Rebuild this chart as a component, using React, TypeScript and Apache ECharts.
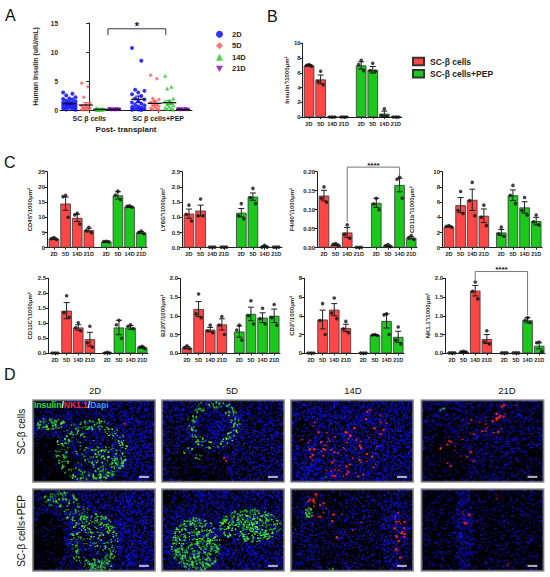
import React, { useEffect, useRef } from "react";
import * as echarts from "echarts";

const FONT = "'Liberation Sans', Arial, Helvetica, sans-serif";
const RED = "#FF4747";
const GREEN = "#1BC81B";
const INK = "#1e1e1e";

// ---------------- Panel A data ----------------
const aGroupLabels = ["SC β cells", "SC β cells+PEP"];
const aDayNames = ["2D", "5D", "14D", "21D"];
const aSc2D = [3.0, 2.8, 2.5, 2.2, 2.0, 1.9, 1.8, 1.6, 1.5, 1.4, 1.3, 1.2, 1.1, 1.0, 0.9, 0.8, 0.7, 0.6, 0.5, 0.4, 0.3, 0.2, 0.1, 0.05];
const aSc5D = [4.6, 4.0, 2.2, 1.2, 0.9, 0.7, 0.5, 0.4, 0.3, 0.2, 0.1, 0.05, 0.0];
const aSc14D = [0.35, 0.25, 0.2, 0.15, 0.1, 0.05, 0.05, 0.0];
const aSc21D = [0.15, 0.12, 0.1, 0.1, 0.08, 0.08, 0.05, 0.05, 0.03, 0.02];
const aPep2D = [10.7, 8.5, 3.5, 3.3, 3.0, 2.7, 2.4, 2.0, 1.8, 1.5, 1.3, 1.1, 0.9, 0.8, 0.6, 0.5, 0.4, 0.3, 0.2, 0.1, 0.05, 0.0];
const aPep5D = [6.0, 5.4, 2.0, 1.8, 1.6, 1.3, 1.0, 0.8, 0.6, 0.5, 0.3, 0.2, 0.1, 0.0];
const aPep14D = [5.9, 4.0, 3.7, 2.0, 1.7, 1.5, 1.2, 1.0, 0.8, 0.6, 0.4, 0.3, 0.2, 0.1];
const aPep21D = [0.15, 0.12, 0.1, 0.1, 0.08, 0.06, 0.05, 0.03];
const aScMean = [1.1, 0.86, 0.12, 0.08];
const aScSem = [0.17, 0.4, 0.03, 0.01];
const aPepMean = [1.85, 1.15, 1.26, 0.08];
const aPepSem = [0.55, 0.35, 0.35, 0.01];
const aTicks = [0, 5, 10, 15];

// ---------------- Panel B data ----------------
const dayLabels = ["2D", "5D", "14D", "21D"];
const legendNames = ["SC-β cells", "SC-β cells+PEP"];
const bRedMean = [7.0, 5.1, 0.02, 0.02];
const bRedSem = [0.1, 0.6, 0, 0];
const bRedDots = [[7.1, 7.0, 6.9], [6.2, 4.8, 4.4], [0, 0, 0], [0, 0, 0]];
const bGreenMean = [7.0, 6.4, 0.45, 0.02];
const bGreenSem = [0.5, 0.45, 0.35, 0];
const bGreenDots = [[7.7, 7.1, 6.3], [7.3, 6.3, 6.2], [1.1, 0.2, 0.1], [0, 0, 0]];

// ---------------- Panel C data ----------------
const cd45RedMean = [3.0, 14.5, 9.8, 5.8];
const cd45RedSem = [0.2, 2.2, 1.2, 0.6];
const cd45RedDots = [[3.3, 3.0, 2.7], [17.2, 16.8, 10.0], [11.3, 10.8, 7.8], [6.7, 5.6, 4.9]];
const cd45GreenMean = [2.0, 17.2, 13.5, 5.0];
const cd45GreenSem = [0.1, 1.2, 0.2, 0.3];
const cd45GreenDots = [[2.1, 2.0, 1.9], [18.6, 17.3, 15.8], [13.8, 13.6, 13.3], [5.5, 5.0, 4.6]];

const ly6gRedMean = [1.12, 1.22, 0.02, 0.02];
const ly6gRedSem = [0.15, 0.18, 0, 0];
const ly6gRedDots = [[1.4, 1.1, 0.88], [1.6, 1.05, 1.05], [0.02, 0.02, 0.02], [0.02, 0.02, 0.02]];
const ly6gGreenMean = [1.15, 1.68, 0.04, 0.02];
const ly6gGreenSem = [0.14, 0.12, 0.02, 0];
const ly6gGreenDots = [[1.45, 1.05, 0.95], [1.95, 1.65, 1.45], [0.08, 0.02, 0.02], [0.02, 0.02, 0.02]];

const f480RedMean = [0.137, 0.008, 0.04, 0.001];
const f480RedSem = [0.014, 0.002, 0.013, 0];
const f480RedDots = [[0.16, 0.13, 0.12], [0.011, 0.009, 0.006], [0.06, 0.035, 0.025], [0.001, 0.001, 0.001]];
const f480GreenMean = [0.118, 0.005, 0.165, 0.026];
const f480GreenSem = [0.012, 0.002, 0.018, 0.003];
const f480GreenDots = [[0.13, 0.115, 0.1], [0.008, 0.005, 0.003], [0.185, 0.18, 0.13], [0.032, 0.026, 0.022]];

const cd11bRedMean = [2.8, 5.6, 6.3, 4.2];
const cd11bRedSem = [0.05, 1.0, 1.4, 0.9];
const cd11bRedDots = [[2.9, 2.8, 2.7], [7.4, 4.9, 4.5], [8.6, 6.2, 4.2], [5.6, 4.0, 2.9]];
const cd11bGreenMean = [2.0, 6.9, 5.3, 3.5];
const cd11bGreenSem = [0.4, 0.7, 0.75, 0.5];
const cd11bGreenDots = [[2.7, 1.8, 1.5], [8.2, 6.9, 5.8], [6.6, 4.9, 4.3], [4.3, 3.4, 3.0]];

const cd11cRedMean = [0.01, 1.42, 0.86, 0.47];
const cd11cRedSem = [0, 0.27, 0.09, 0.23];
const cd11cRedDots = [[0.01, 0.01, 0.01], [1.92, 1.35, 1.2], [1.02, 0.85, 0.75], [0.9, 0.35, 0.2]];
const cd11cGreenMean = [0.02, 0.86, 0.86, 0.2];
const cd11cGreenSem = [0.01, 0.24, 0.06, 0.03];
const cd11cGreenDots = [[0.03, 0.01, 0.01], [1.1, 0.95, 0.5], [0.95, 0.9, 0.82], [0.23, 0.2, 0.15]];

const b220RedMean = [0.15, 1.18, 0.63, 0.77];
const b220RedSem = [0.03, 0.2, 0.06, 0.15];
const b220RedDots = [[0.2, 0.15, 0.12], [1.58, 1.05, 0.95], [0.75, 0.6, 0.55], [0.98, 0.75, 0.5]];
const b220GreenMean = [0.58, 1.05, 0.95, 1.0];
const b220GreenSem = [0.15, 0.18, 0.13, 0.18];
const b220GreenDots = [[0.75, 0.62, 0.35], [1.4, 1.0, 0.78], [1.2, 0.92, 0.78], [1.3, 0.95, 0.75]];

const cd3RedMean = [0.03, 3.6, 4.65, 2.7];
const cd3RedSem = [0, 1.0, 0.65, 0.4];
const cd3RedDots = [[0.03, 0.03, 0.03], [5.3, 3.5, 2.0], [5.9, 4.3, 3.7], [3.4, 2.6, 2.2]];
const cd3GreenMean = [0.02, 1.95, 3.45, 1.75];
const cd3GreenSem = [0, 0.05, 0.75, 0.6];
const cd3GreenDots = [[0.02, 0.02, 0.02], [2.0, 1.95, 1.9], [4.2, 4.1, 2.0], [2.8, 1.4, 1.0]];

const nk11RedMean = [0.01, 0.04, 1.67, 0.38];
const nk11RedSem = [0, 0.01, 0.14, 0.12];
const nk11RedDots = [[0.01, 0.01, 0.01], [0.05, 0.04, 0.03], [1.9, 1.65, 1.45], [0.6, 0.3, 0.25]];
const nk11GreenMean = [0.005, 0.005, 0.88, 0.2];
const nk11GreenSem = [0, 0, 0.07, 0.08];
const nk11GreenDots = [[0.01, 0.01, 0.01], [0.01, 0.01, 0.01], [0.95, 0.88, 0.82], [0.3, 0.28, 0.05]];

// ---------------- Panel D labels ----------------
const dColumns = ["2D", "5D", "14D", "21D"];
const dRows = ["SC-β cells", "SC-β cells+PEP"];

// ---------------- layout helpers ----------------
const barPos = [1, 2, 3, 4, 5.5, 6.5, 7.5, 8.5];
const dotOffsets = [0, -0.22, 0.22];
const aDayOffset = [-0.29, -0.05, 0.16, 0.36];
const aSpread = [0.045, 0.03, 0.03, 0.035];
const aColors = ["#0000FF", "#FF5252", "#22C722", "#8A00C8"];
const aSymbols = ["circle", "diamond", "triangle", "path://M0,0L10,0L5,9Z"];

const cPlots = [
  { title: "CD45⁺/1000μm²", max: 25, step: 5, dec: 0, left: 47, top: 171.7, h: 76, titleX: 30, rm: cd45RedMean, rs: cd45RedSem, rd: cd45RedDots, gm: cd45GreenMean, gs: cd45GreenSem, gd: cd45GreenDots },
  { title: "LY6G⁺/1000μm²", max: 2.5, step: 0.5, dec: 1, left: 182, top: 171.7, h: 76, titleX: 163, rm: ly6gRedMean, rs: ly6gRedSem, rd: ly6gRedDots, gm: ly6gGreenMean, gs: ly6gGreenSem, gd: ly6gGreenDots },
  { title: "F4/80⁺/1000μm²", max: 0.2, step: 0.05, dec: 2, left: 317, top: 171.7, h: 76, titleX: 292, rm: f480RedMean, rs: f480RedSem, rd: f480RedDots, gm: f480GreenMean, gs: f480GreenSem, gd: f480GreenDots },
  { title: "CD11b⁺/1000μm²", max: 10, step: 2, dec: 0, left: 442, top: 171.7, h: 76, titleX: 412, rm: cd11bRedMean, rs: cd11bRedSem, rd: cd11bRedDots, gm: cd11bGreenMean, gs: cd11bGreenSem, gd: cd11bGreenDots },
  { title: "CD11C⁺/1000μm²", max: 2.5, step: 0.5, dec: 1, left: 48, top: 278.3, h: 75, titleX: 30, rm: cd11cRedMean, rs: cd11cRedSem, rd: cd11cRedDots, gm: cd11cGreenMean, gs: cd11cGreenSem, gd: cd11cGreenDots },
  { title: "B220⁺/1000μm²", max: 2.0, step: 0.5, dec: 1, left: 180, top: 278.3, h: 75, titleX: 163, rm: b220RedMean, rs: b220RedSem, rd: b220RedDots, gm: b220GreenMean, gs: b220GreenSem, gd: b220GreenDots },
  { title: "CD3⁺/1000μm²", max: 8, step: 2, dec: 0, left: 304, top: 278.3, h: 75, titleX: 292, rm: cd3RedMean, rs: cd3RedSem, rd: cd3RedDots, gm: cd3GreenMean, gs: cd3GreenSem, gd: cd3GreenDots },
  { title: "NK1.1⁺/1000μm²", max: 2.0, step: 0.5, dec: 1, left: 445, top: 278.3, h: 75, titleX: 428, rm: nk11RedMean, rs: nk11RedSem, rd: nk11RedDots, gm: nk11GreenMean, gs: nk11GreenSem, gd: nk11GreenDots },
];

// ---------------- Panel D image textures (illustrative rendering) ----------------
type Zone = number[]; // cx, cy, rx, ry, blueProbability
type Spot = number[]; // cx, cy, rx, ry, count, ring
const dImages: { seed: number; blue: number; zones: Zone[]; green: Spot[]; red: Spot[] }[] = [
  { seed: 11, blue: 0.42, zones: [[0.14, 0.78, 0.2, 0.32, 0.06], [0.08, 0.08, 0.1, 0.1, 0.2], [0.85, 0.5, 0.2, 0.5, 0.55]], green: [[0.48, 0.62, 0.27, 0.36, 300, 1], [0.14, 0.3, 0.13, 0.07, 70, 0], [0.58, 0.72, 0.12, 0.2, 90, 0], [0.4, 0.6, 0.15, 0.2, 40, 0]], red: [[0.7, 0.3, 0.05, 0.05, 2, 0]] },
  { seed: 23, blue: 0.42, zones: [[0.55, 0.35, 0.15, 0.2, 0.75], [0.3, 0.82, 0.26, 0.22, 0.15]], green: [[0.42, 0.3, 0.2, 0.27, 170, 1], [0.22, 0.62, 0.04, 0.05, 8, 0], [0.3, 0.7, 0.04, 0.04, 6, 0]], red: [[0.5, 0.75, 0.05, 0.05, 2, 0]] },
  { seed: 37, blue: 0.55, zones: [[0.1, 0.4, 0.1, 0.15, 0.25], [0.2, 0.9, 0.15, 0.12, 0.85]], green: [[0.3, 0.95, 0.04, 0.04, 3, 0]], red: [[0.45, 0.66, 0.3, 0.28, 55, 0], [0.2, 0.45, 0.12, 0.2, 14, 0], [0.6, 0.3, 0.2, 0.2, 12, 0]] },
  { seed: 41, blue: 0.34, zones: [[0.2, 0.72, 0.2, 0.3, 0.1], [0.88, 0.78, 0.15, 0.2, 0.15]], green: [[0.15, 0.12, 0.05, 0.05, 3, 0]], red: [[0.52, 0.3, 0.15, 0.18, 20, 0], [0.3, 0.65, 0.15, 0.18, 14, 0], [0.7, 0.13, 0.1, 0.1, 6, 0]] },
  { seed: 53, blue: 0.42, zones: [[0.12, 0.65, 0.14, 0.35, 0.06], [0.85, 0.5, 0.2, 0.5, 0.62]], green: [[0.22, 0.13, 0.14, 0.1, 80, 0], [0.36, 0.3, 0.1, 0.12, 50, 0], [0.5, 0.65, 0.18, 0.32, 240, 1], [0.55, 0.92, 0.12, 0.08, 60, 0], [0.5, 0.6, 0.12, 0.2, 60, 0]], red: [] },
  { seed: 67, blue: 0.5, zones: [[0.1, 0.1, 0.12, 0.12, 0.25]], green: [[0.28, 0.68, 0.2, 0.33, 520, 0], [0.72, 0.45, 0.25, 0.2, 430, 0]], red: [] },
  { seed: 79, blue: 0.24, zones: [[0.85, 0.5, 0.12, 0.5, 0.5], [0.12, 0.55, 0.1, 0.5, 0.35]], green: [[0.15, 0.3, 0.03, 0.07, 35, 0], [0.33, 0.98, 0.03, 0.03, 10, 0]], red: [[0.22, 0.22, 0.08, 0.15, 20, 0], [0.88, 0.55, 0.06, 0.3, 22, 0], [0.4, 0.45, 0.2, 0.3, 6, 0]] },
  { seed: 97, blue: 0.18, zones: [[0.35, 0.5, 0.07, 0.55, 0.6]], green: [], red: [[0.36, 0.35, 0.04, 0.1, 7, 0], [0.7, 0.92, 0.02, 0.03, 2, 0], [0.62, 0.1, 0.03, 0.03, 2, 0]] },
];
const dColX = [32, 161, 290, 420.5];
const dRowY = [399.3, 488.3];
const dW = 124;
const dH = 83.4;

function rng(seed: number) {
  let a = seed >>> 0;
  return () => {
    a = (a + 0x6d2b79f5) >>> 0;
    let t = a;
    t = Math.imul(t ^ (t >>> 15), t | 1);
    t ^= t + Math.imul(t ^ (t >>> 7), t | 61);
    return ((t ^ (t >>> 14)) >>> 0) / 4294967296;
  };
}

function makeTexture(spec: { seed: number; blue: number; zones: Zone[]; green: Spot[]; red: Spot[] }): string {
  const S = 2;
  const cv = document.createElement("canvas");
  cv.width = Math.round(dW * S);
  cv.height = Math.round(dH * S);
  const cw = cv.width;
  const ch = cv.height;
  const g = cv.getContext("2d");
  if (!g) return "";
  g.fillStyle = "#010104";
  g.fillRect(0, 0, cw, ch);
  const r = rng(spec.seed);
  const N = Math.round(dW * dH * 0.75);
  for (let i = 0; i < N; i++) {
    const x = r();
    const y = r();
    let p = spec.blue;
    for (const z of spec.zones) {
      const dx = (x - z[0]) / z[2];
      const dy = (y - z[1]) / z[3];
      if (dx * dx + dy * dy < 1) p = z[4];
    }
    if (r() < p) {
      const b = 140 + Math.floor(r() * 115);
      const rg = Math.floor(r() * 30);
      g.fillStyle = `rgb(${rg},${rg},${b})`;
      const s = S * (0.6 + r() * 0.9);
      g.fillRect(x * cw - s / 2, y * ch - s / 2, s, s);
    }
  }
  const spots = (list: Spot[], col: () => string, base: number, sz: number) => {
    for (const sp of list) {
      for (let k = 0; k < sp[4]; k++) {
        const th = r() * Math.PI * 2;
        const rr = sp[5] ? 0.72 + r() * 0.36 : Math.sqrt(r());
        const px = sp[0] + sp[2] * rr * Math.cos(th);
        const py = sp[1] + sp[3] * rr * Math.sin(th);
        if (px < 0 || px > 1 || py < 0 || py > 1) continue;
        g.fillStyle = col();
        const s = S * (base + r() * sz);
        g.beginPath();
        g.arc(px * cw, py * ch, s / 2, 0, Math.PI * 2);
        g.fill();
      }
    }
  };
  spots(spec.green, () => {
    const k = r();
    return k < 0.3 ? `rgb(20,${(110 + r() * 60) | 0},30)` : `rgb(${(30 + r() * 70) | 0},${(200 + r() * 55) | 0},${(30 + r() * 60) | 0})`;
  }, 0.7, 1.5);
  spots(spec.red, () => `rgb(255,${(15 + r() * 35) | 0},${(25 + r() * 40) | 0})`, 1.2, 1.5);
  g.fillStyle = "#ffffff";
  g.fillRect(cw - 17 * S, ch - 6.5 * S, 10 * S, 1.4 * S);
  g.strokeStyle = "#8c8c8c";
  g.lineWidth = 1.6 * S;
  g.strokeRect(0.8 * S, 0.8 * S, cw - 1.6 * S, ch - 1.6 * S);
  return cv.toDataURL("image/png");
}

// ---------------- option builders ----------------
const axisLine = { show: true, lineStyle: { color: INK, width: 1 } };

function errRender(params: any, api: any) {
  const x = api.value(0);
  const lo = api.coord([x, api.value(1)]);
  const hi = api.coord([x, api.value(2)]);
  const cap = 3;
  const st = { stroke: INK, lineWidth: 1 };
  return {
    type: "group",
    children: [
      { type: "line", shape: { x1: lo[0], y1: lo[1], x2: hi[0], y2: hi[1] }, style: st },
      { type: "line", shape: { x1: hi[0] - cap, y1: hi[1], x2: hi[0] + cap, y2: hi[1] }, style: st },
      { type: "line", shape: { x1: lo[0] - cap, y1: lo[1], x2: lo[0] + cap, y2: lo[1] }, style: st },
    ],
  };
}

function aMeanRender(params: any, api: any) {
  const x = api.value(0);
  const m = api.value(1);
  const s = api.value(2);
  const col = aColors[api.value(3)];
  const pm = api.coord([x, m]);
  const lo = api.coord([x, m - s]);
  const hi = api.coord([x, m + s]);
  const cap = 3;
  const est = { stroke: col, lineWidth: 1 };
  return {
    type: "group",
    children: [
      { type: "line", shape: { x1: lo[0], y1: lo[1], x2: hi[0], y2: hi[1] }, style: est },
      { type: "line", shape: { x1: hi[0] - cap, y1: hi[1], x2: hi[0] + cap, y2: hi[1] }, style: est },
      { type: "line", shape: { x1: lo[0] - cap, y1: lo[1], x2: lo[0] + cap, y2: lo[1] }, style: est },
      { type: "line", shape: { x1: pm[0] - 7, y1: pm[1], x2: pm[0] + 7, y2: pm[1] }, style: { stroke: "#111", lineWidth: 1.3 } },
    ],
  };
}

function barXAxis(gi: number, min: number, max: number) {
  return {
    type: "value",
    gridIndex: gi,
    min,
    max,
    axisLine,
    splitLine: { show: false },
    axisTick: { show: true, customValues: barPos, length: 2, lineStyle: { color: INK } },
    axisLabel: {
      customValues: barPos,
      formatter: (v: number) => {
        const i = barPos.indexOf(v);
        return i < 0 ? "" : dayLabels[i % 4];
      },
      fontSize: 5.5,
      fontWeight: "bold",
      color: INK,
      margin: 3.5,
      fontFamily: FONT,
    },
  };
}

function barYAxis(gi: number, max: number, step: number, dec: number, title: string, gap: number) {
  return {
    type: "value",
    gridIndex: gi,
    min: 0,
    max,
    interval: step,
    axisLine,
    splitLine: { show: false },
    axisTick: { show: true, length: 2.5, lineStyle: { color: INK } },
    axisLabel: { fontSize: 6, fontWeight: "bold", color: INK, margin: 2, fontFamily: FONT, formatter: (v: number) => v.toFixed(dec) },
    name: title,
    nameLocation: "middle",
    nameGap: gap,
    nameTextStyle: { fontSize: 6, fontWeight: "bold", color: INK, fontFamily: FONT },
  };
}

function barSeries(k: number, gi: number, rm: number[], rs: number[], rd: number[][], gm: number[], gs: number[], gd: number[][]) {
  const red = rm.map((v, i) => [barPos[i], v]);
  const green = gm.map((v, i) => [barPos[i + 4], v]);
  const errs: number[][] = [];
  rm.forEach((v, i) => {
    if (rs[i] > 0) errs.push([barPos[i], v - rs[i], v + rs[i]]);
  });
  gm.forEach((v, i) => {
    if (gs[i] > 0) errs.push([barPos[i + 4], v - gs[i], v + gs[i]]);
  });
  const dots: number[][] = [];
  rd.forEach((arr, i) => arr.forEach((v, j) => dots.push([barPos[i] + dotOffsets[j], v])));
  gd.forEach((arr, i) => arr.forEach((v, j) => dots.push([barPos[i + 4] + dotOffsets[j], v])));
  const common = { xAxisIndex: gi, yAxisIndex: gi, barWidth: 10.5, barGap: "-100%", z: 2 };
  return [
    { type: "bar", name: legendNames[0], data: red, itemStyle: { color: RED, borderColor: "#333", borderWidth: 0.8 }, ...common },
    { type: "bar", name: legendNames[1], data: green, itemStyle: { color: GREEN, borderColor: "#333", borderWidth: 0.8 }, ...common },
    { type: "custom", name: `err${k}`, xAxisIndex: gi, yAxisIndex: gi, data: errs, renderItem: errRender, encode: { x: 0, y: [1, 2] }, z: 4, silent: true },
    { type: "scatter", name: `dots${k}`, xAxisIndex: gi, yAxisIndex: gi, data: dots, symbol: "circle", symbolSize: 3.6, itemStyle: { color: "#111" }, z: 5, silent: true },
  ];
}

function buildOption() {
  const grid: any[] = [];
  const xAxis: any[] = [];
  const yAxis: any[] = [];
  const series: any[] = [];

  // Panel A
  grid.push({ left: 60, top: 23, width: 132, height: 87 });
  xAxis.push({
    type: "value",
    gridIndex: 0,
    min: -0.425,
    max: 1.49,
    axisLine,
    splitLine: { show: false },
    axisTick: { show: true, customValues: [0, 1], length: 3, lineStyle: { color: INK } },
    axisLabel: { customValues: [0, 1], formatter: (v: number) => aGroupLabels[Math.round(v)] || "", fontSize: 7, fontWeight: "bold", color: INK, margin: 4.5, fontFamily: FONT },
    name: "Post- transplant",
    nameLocation: "middle",
    nameGap: 15,
    nameTextStyle: { fontSize: 8, fontWeight: "bold", color: INK, fontFamily: FONT },
  });
  yAxis.push({
    type: "value",
    gridIndex: 0,
    min: 0,
    max: 15,
    interval: 5,
    axisLine,
    splitLine: { show: false },
    axisTick: { show: true, length: 3, lineStyle: { color: INK } },
    axisLabel: { fontSize: 6.5, fontWeight: "bold", color: INK, margin: 2, fontFamily: FONT, formatter: (v: number) => (aTicks.includes(v) ? String(v) : "") },
    name: "Human Insulin (uIU/mL)",
    nameLocation: "middle",
    nameGap: 21,
    nameTextStyle: { fontSize: 7, fontWeight: "bold", color: INK, fontFamily: FONT },
  });
  const aSc = [aSc2D, aSc5D, aSc14D, aSc21D];
  const aPep = [aPep2D, aPep5D, aPep14D, aPep21D];
  const jit = (i: number, d: number) => (((i * 3) % 5) - 2) * aSpread[d];
  aDayNames.forEach((name, d) => {
    const data = [
      ...aSc[d].map((v, i) => [aDayOffset[d] + jit(i, d), v]),
      ...aPep[d].map((v, i) => [1 + aDayOffset[d] + jit(i, d), v]),
    ];
    series.push({ type: "scatter", name, xAxisIndex: 0, yAxisIndex: 0, data, symbol: aSymbols[d], symbolSize: 4, itemStyle: { color: aColors[d] }, z: 3 });
  });
  const aMeanData: number[][] = [];
  aDayNames.forEach((_, d) => {
    aMeanData.push([aDayOffset[d], aScMean[d], aScSem[d], d]);
    aMeanData.push([1 + aDayOffset[d], aPepMean[d], aPepSem[d], d]);
  });
  series.push({ type: "custom", name: "aMean", xAxisIndex: 0, yAxisIndex: 0, data: aMeanData, renderItem: aMeanRender, encode: { x: 0, y: 1 }, z: 4, silent: true });

  // Panel B
  grid.push({ left: 302.7, top: 43.3, width: 99, height: 73.7 });
  xAxis.push(barXAxis(1, 0.45, 9.0));
  yAxis.push(barYAxis(1, 10, 2, 0, "Insulin⁺/1000μm²", 13));
  series.push(...barSeries(1, 1, bRedMean, bRedSem, bRedDots, bGreenMean, bGreenSem, bGreenDots));

  // Panel C
  cPlots.forEach((p, k) => {
    const gi = k + 2;
    grid.push({ left: p.left, top: p.top, width: 100, height: p.h });
    xAxis.push(barXAxis(gi, 0.4, 9.0));
    yAxis.push(barYAxis(gi, p.max, p.step, p.dec, p.title, p.left - p.titleX - 3));
    series.push(...barSeries(gi, gi, p.rm, p.rs, p.rd, p.gm, p.gs, p.gd));
  });

  return {
    animation: false,
    backgroundColor: "#ffffff",
    textStyle: { fontFamily: FONT },
    grid,
    xAxis,
    yAxis,
    series,
    legend: [
      {
        orient: "vertical",
        left: 211,
        top: 24.8,
        itemWidth: 7,
        itemHeight: 7,
        itemGap: 2.5,
        data: aDayNames,
        selectedMode: false,
        textStyle: { fontSize: 7.5, fontWeight: "bold", color: INK, fontFamily: FONT, lineHeight: 9, padding: [0, 0, 0, 4] },
      },
      {
        orient: "vertical",
        left: 407,
        top: 51.5,
        itemWidth: 11,
        itemHeight: 7.5,
        itemGap: 2.3,
        icon: "rect",
        data: legendNames,
        selectedMode: false,
        textStyle: { fontSize: 8.5, fontWeight: "bold", color: INK, fontFamily: FONT, lineHeight: 10, padding: [0, 0, 0, 1] },
      },
    ],
  };
}

const brackets = [
  { grid: 0, x1: 0.27, x2: 1.11, y: 14.0, e1: 12.9, e2: 12.9, label: "*", size: 11, color: "#333" },
  { grid: 4, x1: 3, x2: 7.5, y: 0.212, e1: 0.068, e2: 0.187, label: "****", size: 8, color: "#777" },
  { grid: 9, x1: 3, x2: 7.5, y: 2.18, e1: 1.955, e2: 1.02, label: "****", size: 8, color: "#777" },
];

function buildGraphics(chart: any) {
  const els: any[] = [];
  const letters: [string, number, number][] = [["A", 5, 7], ["B", 267, 8], ["C", 4, 154], ["D", 4, 366]];
  letters.forEach(([t, x, y]) => {
    els.push({ type: "text", x, y, silent: true, style: { text: t, fontSize: 16, fontFamily: FONT, fill: "#111", align: "left", verticalAlign: "top" } });
  });
  brackets.forEach((b) => {
    const p1 = chart.convertToPixel({ gridIndex: b.grid }, [b.x1, b.e1]);
    const p2 = chart.convertToPixel({ gridIndex: b.grid }, [b.x1, b.y]);
    const p3 = chart.convertToPixel({ gridIndex: b.grid }, [b.x2, b.y]);
    const p4 = chart.convertToPixel({ gridIndex: b.grid }, [b.x2, b.e2]);
    els.push({ type: "polyline", silent: true, shape: { points: [p1, p2, p3, p4] }, style: { stroke: b.color, lineWidth: 1, fill: "none" } });
    els.push({
      type: "text",
      silent: true,
      x: (p2[0] + p3[0]) / 2,
      y: p2[1] + (b.label === "*" ? 3 : 2),
      style: { text: b.label, fontSize: b.size, fontWeight: "bold", fontFamily: FONT, fill: "#111", align: "center", verticalAlign: "bottom" },
    });
  });
  dImages.forEach((spec, idx) => {
    const row = Math.floor(idx / 4);
    const col = idx % 4;
    const url = makeTexture(spec);
    els.push({ type: "image", silent: true, x: dColX[col], y: dRowY[row], style: { image: url, x: 0, y: 0, width: dW, height: dH } });
  });
  const colLabelX = [95, 232, 353, 507];
  dColumns.forEach((t, i) => {
    els.push({ type: "text", silent: true, x: colLabelX[i], y: 390, style: { text: t, fontSize: 9.5, fontFamily: FONT, fill: "#111", align: "center", verticalAlign: "middle" } });
  });
  const rowLabelY = [431.7, 531];
  dRows.forEach((t, i) => {
    els.push({ type: "text", silent: true, x: 21.5, y: rowLabelY[i], rotation: Math.PI / 2, style: { text: t, fontSize: 10, fontFamily: FONT, fill: "#111", align: "center", verticalAlign: "middle" } });
  });
  els.push({
    type: "text",
    silent: true,
    x: 34,
    y: 400.5,
    style: {
      text: "{g|Insulin}{w|/}{r|NK1.1}{w|/}{b|Dapi}",
      fontSize: 8.5,
      fontWeight: "bold",
      fontFamily: FONT,
      align: "left",
      verticalAlign: "top",
      rich: {
        g: { fill: "#2FE02F", fontSize: 8.5, fontWeight: "bold", fontFamily: FONT },
        w: { fill: "#ffffff", fontSize: 8.5, fontWeight: "bold", fontFamily: FONT },
        r: { fill: "#FF2A2A", fontSize: 8.5, fontWeight: "bold", fontFamily: FONT },
        b: { fill: "#3A9BFF", fontSize: 8.5, fontWeight: "bold", fontFamily: FONT },
      },
    },
  });
  return els;
}

export default function App() {
  const ref = useRef<HTMLDivElement>(null);
  useEffect(() => {
    if (!ref.current) return;
    const chart = echarts.init(ref.current, undefined, { renderer: "svg", width: 550, height: 577 });
    chart.setOption(buildOption() as any);
    chart.setOption({ graphic: buildGraphics(chart) } as any);
    return () => {
      chart.dispose();
    };
  }, []);
  return <div ref={ref} style={{ position: "fixed", left: 0, top: 0, width: 550, height: 577, background: "#ffffff" }} />;
}
